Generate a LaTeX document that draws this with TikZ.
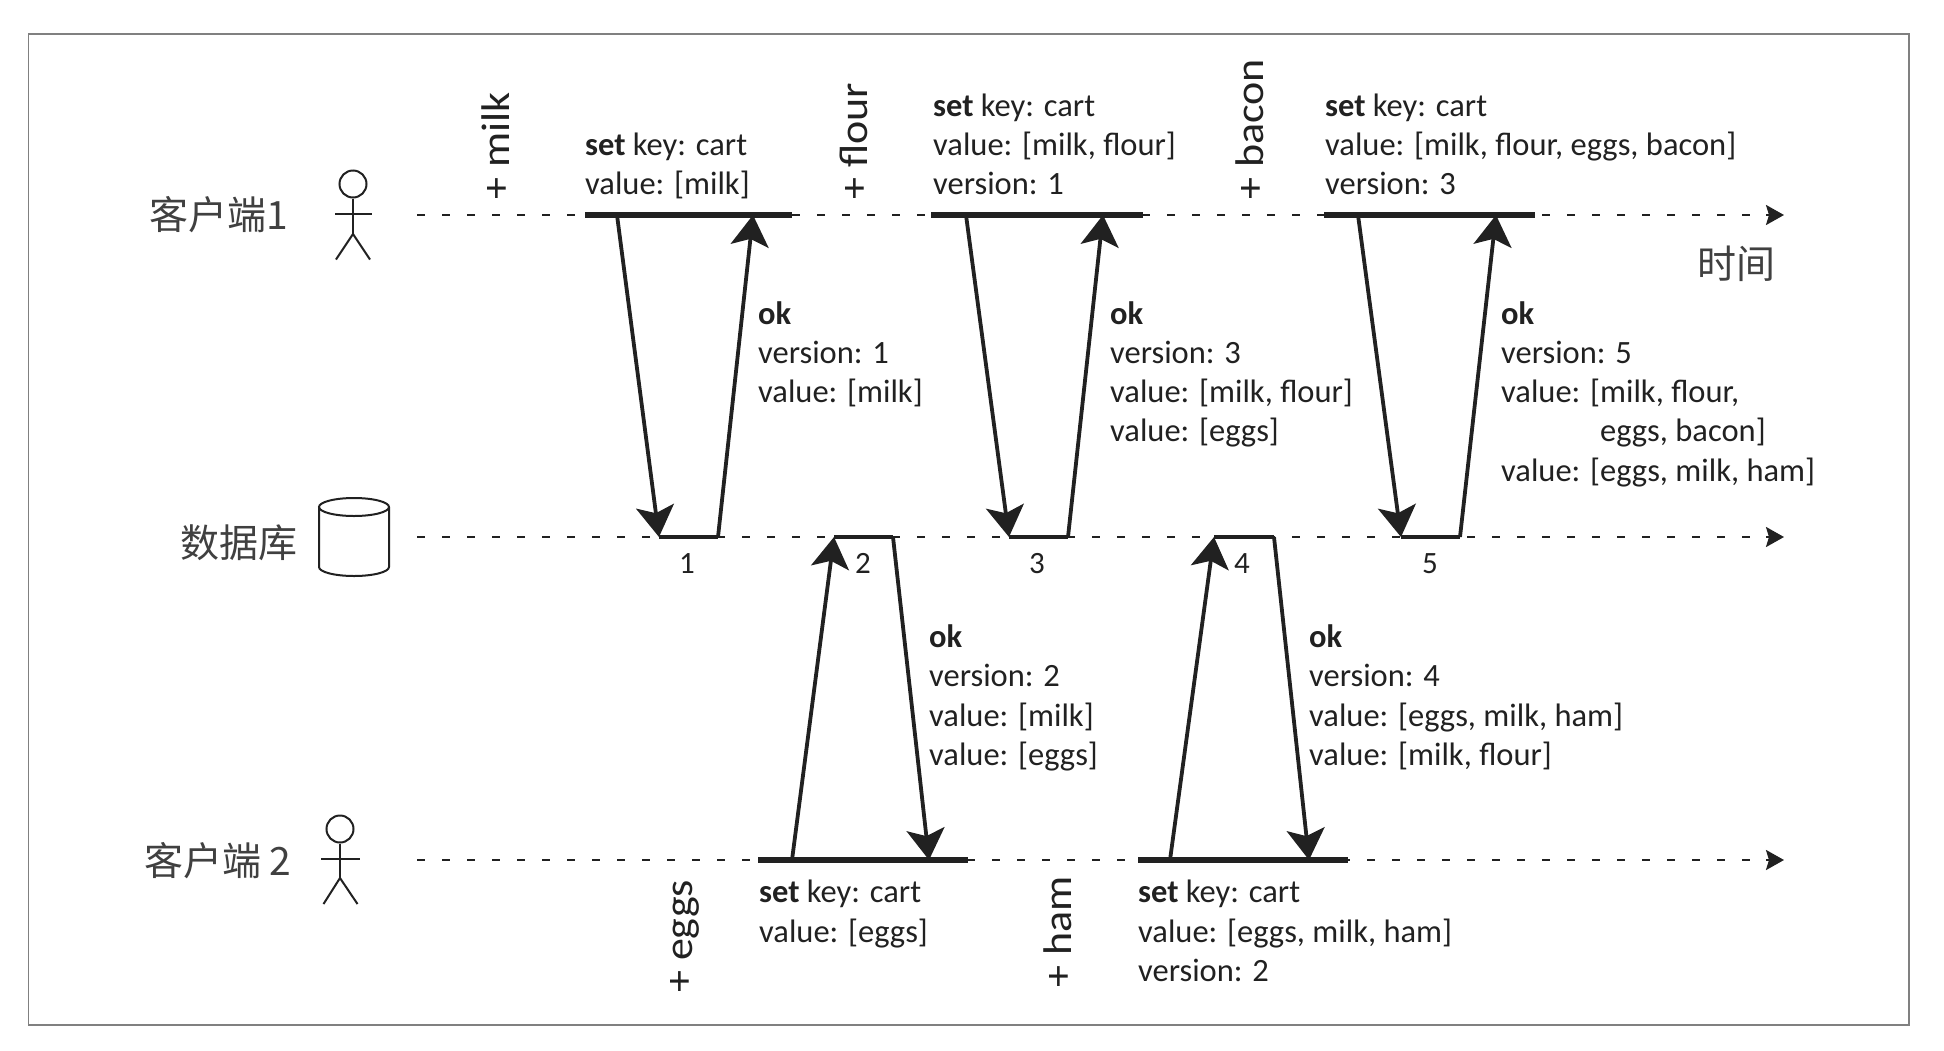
\documentclass[tikz,border=0pt]{standalone}
\usepackage{fontspec}
\setmainfont{Carlito}
\newfontfamily\cjkfont{Noto Sans CJK SC}
\newfontfamily\itemfont[FakeStretch=1.1]{Carlito}
\usetikzlibrary{arrows.meta}
\definecolor{inkc}{gray}{0.13}
\tikzset{
  frame_b/.style = {draw=black!50, line width=1.4pt},
  time_l/.style = {draw=inkc, line width=2.8pt, dash pattern=on 8pt off 17pt},
  time_tip/.style = {draw=inkc, line width=2.4pt, -{Stealth[length=18pt,width=20pt,inset=3pt]}},
  seg_l/.style = {draw=inkc, line width=5.5pt},
  seg_s/.style = {draw=inkc, line width=4.5pt},
  msg_l/.style = {draw=inkc, line width=3.8pt, -{Stealth[length=31pt,width=38pt,inset=7pt]}},
  actor_l/.style = {draw=inkc, line width=2pt},
  txt_n/.style = {anchor=north west, inner sep=0pt, align=left, text=inkc,
    font=\fontsize{32.5}{39.3}\selectfont},
  num_n/.style = {anchor=base, inner sep=0pt, text=inkc, font=\fontsize{31}{36}\selectfont},
  item_n/.style = {anchor=base west, rotate=90, inner sep=0pt, text=inkc,
    font=\fontsize{40}{46}\itemfont},
  name_n/.style = {inner sep=0pt, text=black!75, font=\fontsize{39}{44}\cjkfont}
}
\begin{document}
\begin{tikzpicture}[x=1pt,y=-1pt]
\useasboundingbox (0,0) rectangle (1944,1050);
\draw[frame_b] (28.5,34) rectangle (1909,1025);

% time lines
\coordinate (c1_in) at (417,215);
\coordinate (c1_end) at (1784,215);
\coordinate (db_in) at (417,537);
\coordinate (db_end) at (1784,537);
\coordinate (c2_in) at (417,860);
\coordinate (c2_end) at (1784,860);
\draw[time_l] (c1_in) -- (c1_end);
\draw[time_l] (db_in) -- (db_end);
\draw[time_l] (c2_in) -- (c2_end);
\path (c1_end) ++(-18,0) coordinate (c1_tip);
\path (db_end) ++(-18,0) coordinate (db_tip);
\path (c2_end) ++(-18,0) coordinate (c2_tip);
\draw[time_tip] (c1_tip) -- (c1_end);
\draw[time_tip] (db_tip) -- (db_end);
\draw[time_tip] (c2_tip) -- (c2_end);

% client 1 requests
\coordinate (a1) at (585,215);
\coordinate (a2) at (792,215);
\coordinate (b1) at (931,215);
\coordinate (b2) at (1143,215);
\coordinate (c1) at (1324,215);
\coordinate (c2) at (1535,215);
\coordinate (a_out) at (617,215);
\coordinate (a_in) at (753,215);
\coordinate (b_out) at (966,215);
\coordinate (b_in) at (1103,215);
\coordinate (c_out) at (1358,215);
\coordinate (c_in) at (1496,215);
% database writes
\coordinate (w1a) at (659,537);
\coordinate (w1b) at (718,537);
\coordinate (w2a) at (834,537);
\coordinate (w2b) at (893,537);
\coordinate (w3a) at (1009,537);
\coordinate (w3b) at (1068,537);
\coordinate (w4a) at (1214,537);
\coordinate (w4b) at (1274,537);
\coordinate (w5a) at (1401,537);
\coordinate (w5b) at (1460,537);
% client 2 requests
\coordinate (d1) at (758,860);
\coordinate (d2) at (968,860);
\coordinate (e1) at (1138,860);
\coordinate (e2) at (1348,860);
\coordinate (d_out) at (792,860);
\coordinate (d_in) at (929,860);
\coordinate (e_out) at (1170,860);
\coordinate (e_in) at (1309,860);

\draw[seg_l] (a1) -- (a2);
\draw[seg_l] (b1) -- (b2);
\draw[seg_l] (c1) -- (c2);
\draw[seg_l] (d1) -- (d2);
\draw[seg_l] (e1) -- (e2);
\draw[seg_s] (w1a) -- (w1b);
\draw[seg_s] (w2a) -- (w2b);
\draw[seg_s] (w3a) -- (w3b);
\draw[seg_s] (w4a) -- (w4b);
\draw[seg_s] (w5a) -- (w5b);

\draw[msg_l] (a_out) -- (w1a);
\draw[msg_l] (w1b) -- (a_in);
\draw[msg_l] (b_out) -- (w3a);
\draw[msg_l] (w3b) -- (b_in);
\draw[msg_l] (c_out) -- (w5a);
\draw[msg_l] (w5b) -- (c_in);
\draw[msg_l] (d_out) -- (w2a);
\draw[msg_l] (w2b) -- (d_in);
\draw[msg_l] (e_out) -- (w4a);
\draw[msg_l] (w4b) -- (e_in);

% actors
\node[circle, actor_l, minimum size=27pt, inner sep=0pt] (head_a) at (353,184) {};
\coordinate (hip_a) at (353,234);
\coordinate (arm_al) at (335,213.5);
\coordinate (arm_ar) at (372,213.5);
\coordinate (leg_al) at (336,259.5);
\coordinate (leg_ar) at (370,259.5);
\draw[actor_l] (head_a) -- (hip_a);
\draw[actor_l] (arm_al) -- (arm_ar);
\draw[actor_l] (leg_al) -- (hip_a) -- (leg_ar);
\node[circle, actor_l, minimum size=27pt, inner sep=0pt] (head_b) at (340,829) {};
\coordinate (hip_b) at (340,878);
\coordinate (arm_bl) at (321,858.5);
\coordinate (arm_br) at (360,858.5);
\coordinate (leg_bl) at (323.5,904);
\coordinate (leg_br) at (357.5,904);
\draw[actor_l] (head_b) -- (hip_b);
\draw[actor_l] (arm_bl) -- (arm_br);
\draw[actor_l] (leg_bl) -- (hip_b) -- (leg_br);

% database
\draw[actor_l] (354,507) ellipse [x radius=35pt, y radius=9pt];
\draw[actor_l] (319,507) -- (319,567) arc [start angle=180, end angle=360, x radius=35pt, y radius=9pt] -- (389,507);

% names
\node[name_n, anchor=west] (name_a) at (149,215) {客户端1};
\node[name_n, anchor=west] (name_db) at (180,543) {数据库};
\node[name_n, anchor=west] (name_b) at (144,861) {客户端 2};
\node[name_n, anchor=west] (name_t) at (1697,264) {时间};

% added items
\node[item_n] (add_milk) at (509,200) {+ milk};
\node[item_n] (add_flour) at (867,200) {+ flour};
\node[item_n] (add_bacon) at (1263,200) {+ bacon};
\node[item_n] (add_eggs) at (692,993) {+ eggs};
\node[item_n] (add_ham) at (1071,988) {+ ham};

% requests
\node[txt_n] (set_a) at (585,132.5) {\textbf{set} key: cart\\value: [milk]};
\node[txt_n] (set_b) at (933,93.5) {\textbf{set} key: cart\\value: [milk, flour]\\version: 1};
\node[txt_n] (set_c) at (1325,93.5) {\textbf{set} key: cart\\value: [milk, flour, eggs, bacon]\\version: 3};
\node[txt_n] (set_d) at (759,880) {\textbf{set} key: cart\\value: [eggs]};
\node[txt_n] (set_e) at (1138,880) {\textbf{set} key: cart\\value: [eggs, milk, ham]\\version: 2};

% responses
\node[txt_n] (ok_a) at (758,301) {\textbf{ok}\\version: 1\\value: [milk]};
\node[txt_n] (ok_b) at (1110,301) {\textbf{ok}\\version: 3\\value: [milk, flour]\\value: [eggs]};
\node[txt_n] (ok_c) at (1501,301) {\textbf{ok}\\version: 5\\value: [milk, flour,\\\phantom{value: [}eggs, bacon]\\value: [eggs, milk, ham]};
\node[txt_n] (ok_d) at (929,624.5) {\textbf{ok}\\version: 2\\value: [milk]\\value: [eggs]};
\node[txt_n] (ok_e) at (1309,624.5) {\textbf{ok}\\version: 4\\value: [eggs, milk, ham]\\value: [milk, flour]};

% versions
\node[num_n] (ver_a) at (687,573) {1};
\node[num_n] (ver_b) at (863,573) {2};
\node[num_n] (ver_c) at (1037,573) {3};
\node[num_n] (ver_d) at (1242,573) {4};
\node[num_n] (ver_e) at (1430,573) {5};
\end{tikzpicture}
\end{document}
